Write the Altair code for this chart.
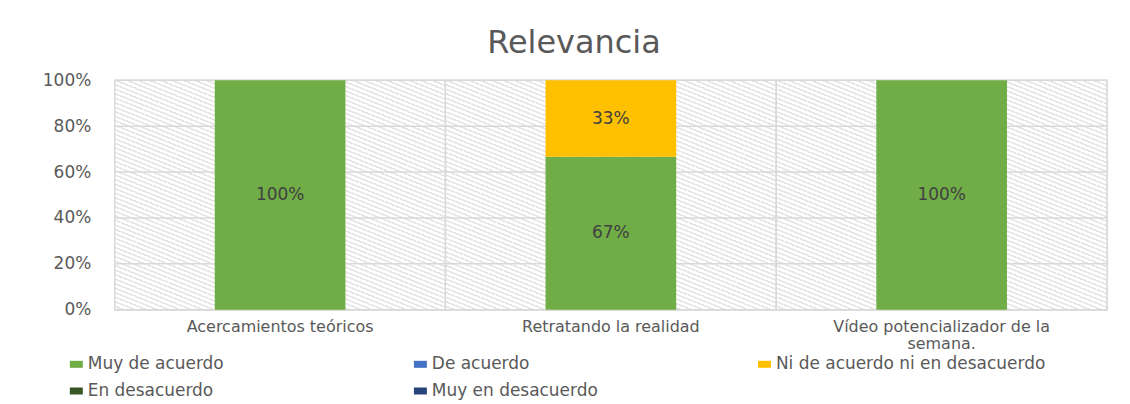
import altair as alt
import pandas as pd

categories = ["Acercamientos teóricos", "Retratando la realidad", "Vídeo potencializador de la semana."]
series = ["Muy de acuerdo", "De acuerdo", "Ni de acuerdo ni en desacuerdo", "En desacuerdo", "Muy en desacuerdo"]
muy_de_acuerdo = [1.0, 0.6667, 1.0]
de_acuerdo = [0.0, 0.0, 0.0]
ni_acuerdo = [0.0, 0.3333, 0.0]
en_desacuerdo = [0.0, 0.0, 0.0]
muy_en_desacuerdo = [0.0, 0.0, 0.0]
colors = ["#70AD47", "#4472C4", "#FFC000", "#375623", "#264478"]
y_ticks = [0, 0.2, 0.4, 0.6, 0.8, 1.0]

all_values = [muy_de_acuerdo, de_acuerdo, ni_acuerdo, en_desacuerdo, muy_en_desacuerdo]
rows = []
for si, (s, vals) in enumerate(zip(series, all_values)):
    for c, v in zip(categories, vals):
        rows.append({"cat": c, "serie": s, "idx": si, "value": v})
df = pd.DataFrame(rows)
cat_df = pd.DataFrame({"cat": categories})
tick_df = pd.DataFrame({"tick": y_ticks})

FONT = "DejaVu Sans"
GRID = "#d9d9d9"
TXT = "#595959"

# hatch-like stripes as a linear gradient (style only)
stops = []
n = 80
P = 1.0 / n
for k in range(n):
    a = k * P
    stops.append({"offset": a, "color": "#ffffff"})
    stops.append({"offset": a + 0.6 * P, "color": "#ffffff"})
    stops.append({"offset": a + 0.6 * P, "color": "#e6e6e6"})
    stops.append({"offset": min(a + P, 1.0), "color": "#e6e6e6"})
hatch = alt.LinearGradient(
    gradient="linear",
    x1=0, y1=1, x2=0.683, y2=-0.183,
    stops=[alt.GradientStop(color=s["color"], offset=min(s["offset"], 1.0)) for s in stops],
)

x_scale = alt.Scale(domain=categories, paddingInner=0, paddingOuter=0)
y_scale = alt.Scale(domain=[0, 1])

x_enc = alt.X(
    "cat:N", scale=x_scale, title=None,
    axis=alt.Axis(
        labelAngle=0, domain=False, ticks=False, grid=False,
        labelFont=FONT, labelFontSize=16, labelColor=TXT, labelPadding=9,
        labelLineHeight=17, labelLimit=400,
        labelExpr="length(datum.label) > 25 ? split(replace(datum.label, regexp(' ([^ ]+)$'), '|$1'), '|') : datum.label",
    ),
)
y_axis = alt.Axis(
    values=y_ticks, format=".0%", domain=False, ticks=False, grid=False,
    labelFont=FONT, labelFontSize=17, labelColor=TXT, labelPadding=24,
)

# hatched background per category; its outline gives the category boundary lines
bg = alt.Chart(cat_df).mark_rect(fill=hatch, stroke=GRID, strokeWidth=1.5).encode(
    x=x_enc,
    y=alt.datum(0, scale=y_scale, axis=y_axis, title=None),
    y2=alt.datum(1),
)

hgrid = alt.Chart(tick_df).mark_rule(color=GRID, strokeWidth=1.5).encode(
    y=alt.Y("tick:Q", scale=y_scale, axis=y_axis, title=None),
)

bars = alt.Chart(df).mark_bar(width=alt.RelativeBandSize(0.395)).encode(
    x=x_enc,
    y=alt.Y("value:Q", stack="zero", scale=y_scale, title=None, axis=y_axis),
    color=alt.Color(
        "serie:N",
        scale=alt.Scale(domain=series, range=colors),
        sort=series,
        legend=alt.Legend(
            title=None, orient="none", legendX=-47, legendY=276,
            direction="horizontal", columns=3, gridAlign="all",
            columnPadding=54, rowPadding=9, padding=0, offset=0,
            symbolType="M-1,-0.54H1V0.54H-1Z", symbolSize=169, symbolStrokeWidth=0,
            labelFont=FONT, labelFontSize=17, labelColor=TXT, labelOffset=3, labelLimit=400,
        ),
    ),
    order=alt.Order("idx:Q", sort="ascending"),
)

labels = alt.Chart(df).transform_filter("datum.value > 0").transform_stack(
    stack="value", groupby=["cat"], as_=["v0", "v1"], sort=[alt.SortField("idx", "ascending")]
).transform_calculate(mid="(datum.v0 + datum.v1) / 2").mark_text(
    font=FONT, fontSize=17, color="#404040"
).encode(
    x=x_enc,
    y=alt.Y("mid:Q", scale=y_scale, axis=y_axis, title=None),
    text=alt.Text("value:Q", format=".0%"),
)

chart = alt.layer(bg, hgrid, bars, labels).properties(
    width=995, height=230,
    title=alt.Title("Relevancia", font=FONT, fontSize=32, fontWeight="normal", color=TXT,
                    anchor="middle", dx=-37, dy=42, offset=28, baseline="alphabetic"),
    autosize=alt.AutoSizeParams(type="none"),
    padding={"left": 107, "top": 72, "right": 15, "bottom": 92},
).configure_view(stroke=GRID, strokeWidth=1.5).configure(background="#ffffff")

chart.save("out.html", embed_options={"renderer": "svg", "actions": False})
